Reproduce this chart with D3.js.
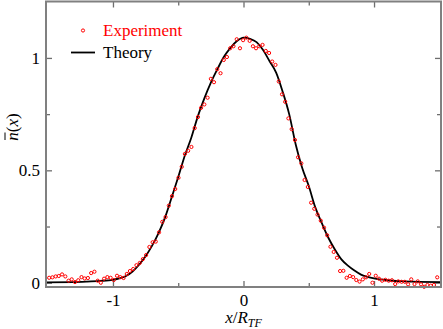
<!DOCTYPE html>
<html>
<head>
<meta charset="utf-8">
<script src="https://cdn.jsdelivr.net/npm/d3@7"></script>
<style>
  body { margin: 0; background: #fff; }
  text { font-family: "Liberation Serif", "DejaVu Serif", serif; }
</style>
</head>
<body>
<div id="chart"></div>
<script>
// measured density profile (points)
const expX = [-1.489,-1.464,-1.439,-1.415,-1.390,-1.365,-1.340,-1.316,-1.291,-1.266,
  -1.241,-1.217,-1.192,-1.167,-1.142,-1.117,-1.093,-1.068,-1.043,-1.018,
  -0.994,-0.969,-0.944,-0.919,-0.894,-0.870,-0.845,-0.820,-0.795,-0.771,
  -0.746,-0.721,-0.696,-0.672,-0.647,-0.622,-0.597,-0.572,-0.548,-0.523,
  -0.498,-0.473,-0.449,-0.424,-0.399,-0.374,-0.349,-0.325,-0.300,-0.275,
  -0.250,-0.226,-0.201,-0.176,-0.151,-0.127,-0.102,-0.077,-0.052,-0.027,
  -0.003,0.022,0.047,0.072,0.096,0.121,0.146,0.171,0.196,0.220,
  0.245,0.270,0.295,0.319,0.344,0.369,0.394,0.418,0.443,0.468,
  0.493,0.518,0.542,0.567,0.592,0.617,0.641,0.666,0.691,0.716,
  0.740,0.765,0.790,0.815,0.840,0.864,0.889,0.914,0.939,0.963,
  0.988,1.013,1.038,1.062,1.087,1.112,1.137,1.162,1.186,1.211,
  1.236,1.261,1.285,1.310,1.335,1.360,1.384,1.409,1.434,1.459,1.484];
const expY = [0.022,0.024,0.028,0.030,0.037,0.028,0.009,0.015,0.003,0.011,
  0.025,0.019,0.021,0.043,0.049,0.009,0.000,0.018,0.025,0.022,
  0.012,0.031,0.025,0.021,0.039,0.052,0.061,0.078,0.088,0.105,
  0.123,0.159,0.180,0.183,0.224,0.271,0.292,0.343,0.385,0.417,
  0.467,0.516,0.573,0.587,0.604,0.688,0.737,0.778,0.793,0.823,
  0.907,0.892,0.950,0.932,0.991,1.004,1.043,1.052,1.083,1.043,
  1.079,1.090,1.076,1.052,1.043,1.052,1.058,1.031,1.022,0.984,
  0.969,0.895,0.838,0.805,0.731,0.683,0.635,0.558,0.531,0.457,
  0.426,0.356,0.329,0.303,0.276,0.245,0.211,0.160,0.137,0.111,
  0.052,0.053,0.022,0.030,0.025,0.012,0.005,0.015,0.024,0.039,
  0.000,0.031,0.018,0.009,0.013,0.009,0.011,-0.006,0.006,0.004,
  0.004,-0.007,0.015,-0.006,0.006,-0.007,-0.018,-0.010,-0.013,-0.010,0.024];

// theory curve
const theoryX = [-1.515,-1.3,-1.2,-1.1,-1.0,-0.95,-0.9,-0.85,-0.8,-0.75,-0.7,-0.65,-0.6,-0.55,-0.5,
  -0.45,-0.4,-0.35,-0.3,-0.25,-0.2,-0.15,-0.1,-0.05,0,0.05,0.1,0.15,0.2,0.25,0.3,0.35,0.4,
  0.45,0.5,0.55,0.6,0.65,0.7,0.75,0.8,0.85,0.9,0.95,1.0,1.1,1.2,1.3,1.515];
const theoryY = [0.002,0.003,0.005,0.008,0.013,0.019,0.030,0.050,0.080,0.118,0.165,0.222,0.292,0.38,0.47,
  0.565,0.645,0.74,0.82,0.89,0.95,1.005,1.045,1.075,1.09,1.085,1.07,1.035,0.985,0.935,0.85,0.75,0.615,
  0.51,0.43,0.335,0.265,0.2,0.148,0.104,0.076,0.054,0.036,0.026,0.019,0.011,0.007,0.005,0.003];

const xMajor = [-1, 0, 1];
const xMinor = [-0.5, 0.5];
const yMajor = [0, 0.5, 1];
const yMinor = [0.25, 0.75];

const width = 443, height = 329;
const mLeft = 46, mRight = 441, mTop = 1.5, mBottom = 287;

const svg = d3.select("#chart").append("svg")
  .attr("width", width)
  .attr("height", height);

const x = d3.scaleLinear().domain([-1.513, 1.513]).range([mLeft, mRight]);
const y = d3.scaleLinear().domain([-0.019, 1.251]).range([mBottom, mTop]);

const axisColor = "#6e6e6e";

function styleAxis(g) {
  g.select(".domain").remove();
  g.selectAll(".tick line").attr("stroke", axisColor).attr("stroke-width", 1.3);
  g.selectAll(".tick text").attr("fill", "#000").style("font-size", "17px")
    .style("font-family", "'Liberation Serif', serif");
}

const fmt = d => String(d);

// bottom
svg.append("g").attr("transform", `translate(0,${mBottom})`)
  .call(d3.axisBottom(x).tickValues(xMajor).tickSize(-6).tickPadding(7).tickFormat(fmt))
  .call(styleAxis);
svg.append("g").attr("transform", `translate(0,${mBottom})`)
  .call(d3.axisBottom(x).tickValues(xMinor).tickSize(-4).tickFormat(""))
  .call(styleAxis);
// top
svg.append("g").attr("transform", `translate(0,${mTop})`)
  .call(d3.axisTop(x).tickValues(xMajor).tickSize(-6).tickFormat(""))
  .call(styleAxis);
svg.append("g").attr("transform", `translate(0,${mTop})`)
  .call(d3.axisTop(x).tickValues(xMinor).tickSize(-4).tickFormat(""))
  .call(styleAxis);
// left
svg.append("g").attr("transform", `translate(${mLeft},0)`)
  .call(d3.axisLeft(y).tickValues(yMajor).tickSize(-6).tickPadding(6).tickFormat(fmt))
  .call(styleAxis);
svg.append("g").attr("transform", `translate(${mLeft},0)`)
  .call(d3.axisLeft(y).tickValues(yMinor).tickSize(-4).tickFormat(""))
  .call(styleAxis);
// right
svg.append("g").attr("transform", `translate(${mRight},0)`)
  .call(d3.axisRight(y).tickValues(yMajor).tickSize(-6).tickFormat(""))
  .call(styleAxis);
svg.append("g").attr("transform", `translate(${mRight},0)`)
  .call(d3.axisRight(y).tickValues(yMinor).tickSize(-4).tickFormat(""))
  .call(styleAxis);

svg.append("defs").append("clipPath").attr("id", "clip")
  .append("rect").attr("x", mLeft).attr("y", mTop).attr("width", mRight - mLeft).attr("height", mBottom - mTop);

// theory line
const theory = theoryX.map((d, i) => [d, theoryY[i]]);
svg.append("path")
  .datum(theory)
  .attr("clip-path", "url(#clip)")
  .attr("fill", "none")
  .attr("stroke", "#000")
  .attr("stroke-width", 1.8)
  .attr("d", d3.line().x(d => x(d[0])).y(d => y(d[1])).curve(d3.curveMonotoneX));

// experiment points
const pts = expX.map((d, i) => [d, expY[i]]);
svg.append("g").selectAll("circle")
  .data(pts)
  .enter().append("circle")
  .attr("cx", d => x(d[0]))
  .attr("cy", d => y(d[1]))
  .attr("r", 1.6)
  .attr("fill", "none")
  .attr("stroke", "#ff0000")
  .attr("stroke-width", 1);

// frame
svg.append("rect")
  .attr("x", mLeft).attr("y", mTop)
  .attr("width", mRight - mLeft).attr("height", mBottom - mTop)
  .attr("fill", "none")
  .attr("stroke", "#808080")
  .attr("stroke-width", 2);

// legend
const leg = svg.append("g");
leg.append("circle").attr("cx", 83).attr("cy", 30.5).attr("r", 1.6)
  .attr("fill", "none").attr("stroke", "#ff0000").attr("stroke-width", 1);
leg.append("text").attr("x", 103).attr("y", 35.5).attr("fill", "#ff0000")
  .style("font-size", "17px").text("Experiment");
leg.append("line").attr("x1", 71).attr("x2", 95).attr("y1", 52.5).attr("y2", 52.5)
  .attr("stroke", "#000").attr("stroke-width", 1.8);
leg.append("text").attr("x", 103).attr("y", 57.5).attr("fill", "#000")
  .style("font-size", "17px").text("Theory");

// x axis title
const xt = svg.append("text").attr("x", 243.5).attr("y", 322.5)
  .attr("text-anchor", "middle").style("font-size", "17px");
xt.append("tspan").style("font-style", "italic").text("x");
xt.append("tspan").text("/");
xt.append("tspan").style("font-style", "italic").text("R");
xt.append("tspan").style("font-style", "italic").style("font-size", "12px")
  .attr("dy", 4).text("TF");

// y axis title
const yg = svg.append("g").attr("transform", "translate(17.5,127) rotate(-90)");
const yt = yg.append("text").attr("x", 0).attr("y", 0)
  .attr("text-anchor", "middle").style("font-size", "17px");
yt.append("tspan").style("font-style", "italic").text("n");
yt.append("tspan").text("(");
yt.append("tspan").style("font-style", "italic").text("x");
yt.append("tspan").text(")");
// bar over n
yg.append("line").attr("x1", -13).attr("x2", -5.5).attr("y1", -12.5).attr("y2", -12.5)
  .attr("stroke", "#000").attr("stroke-width", 1);
</script>
</body>
</html>
